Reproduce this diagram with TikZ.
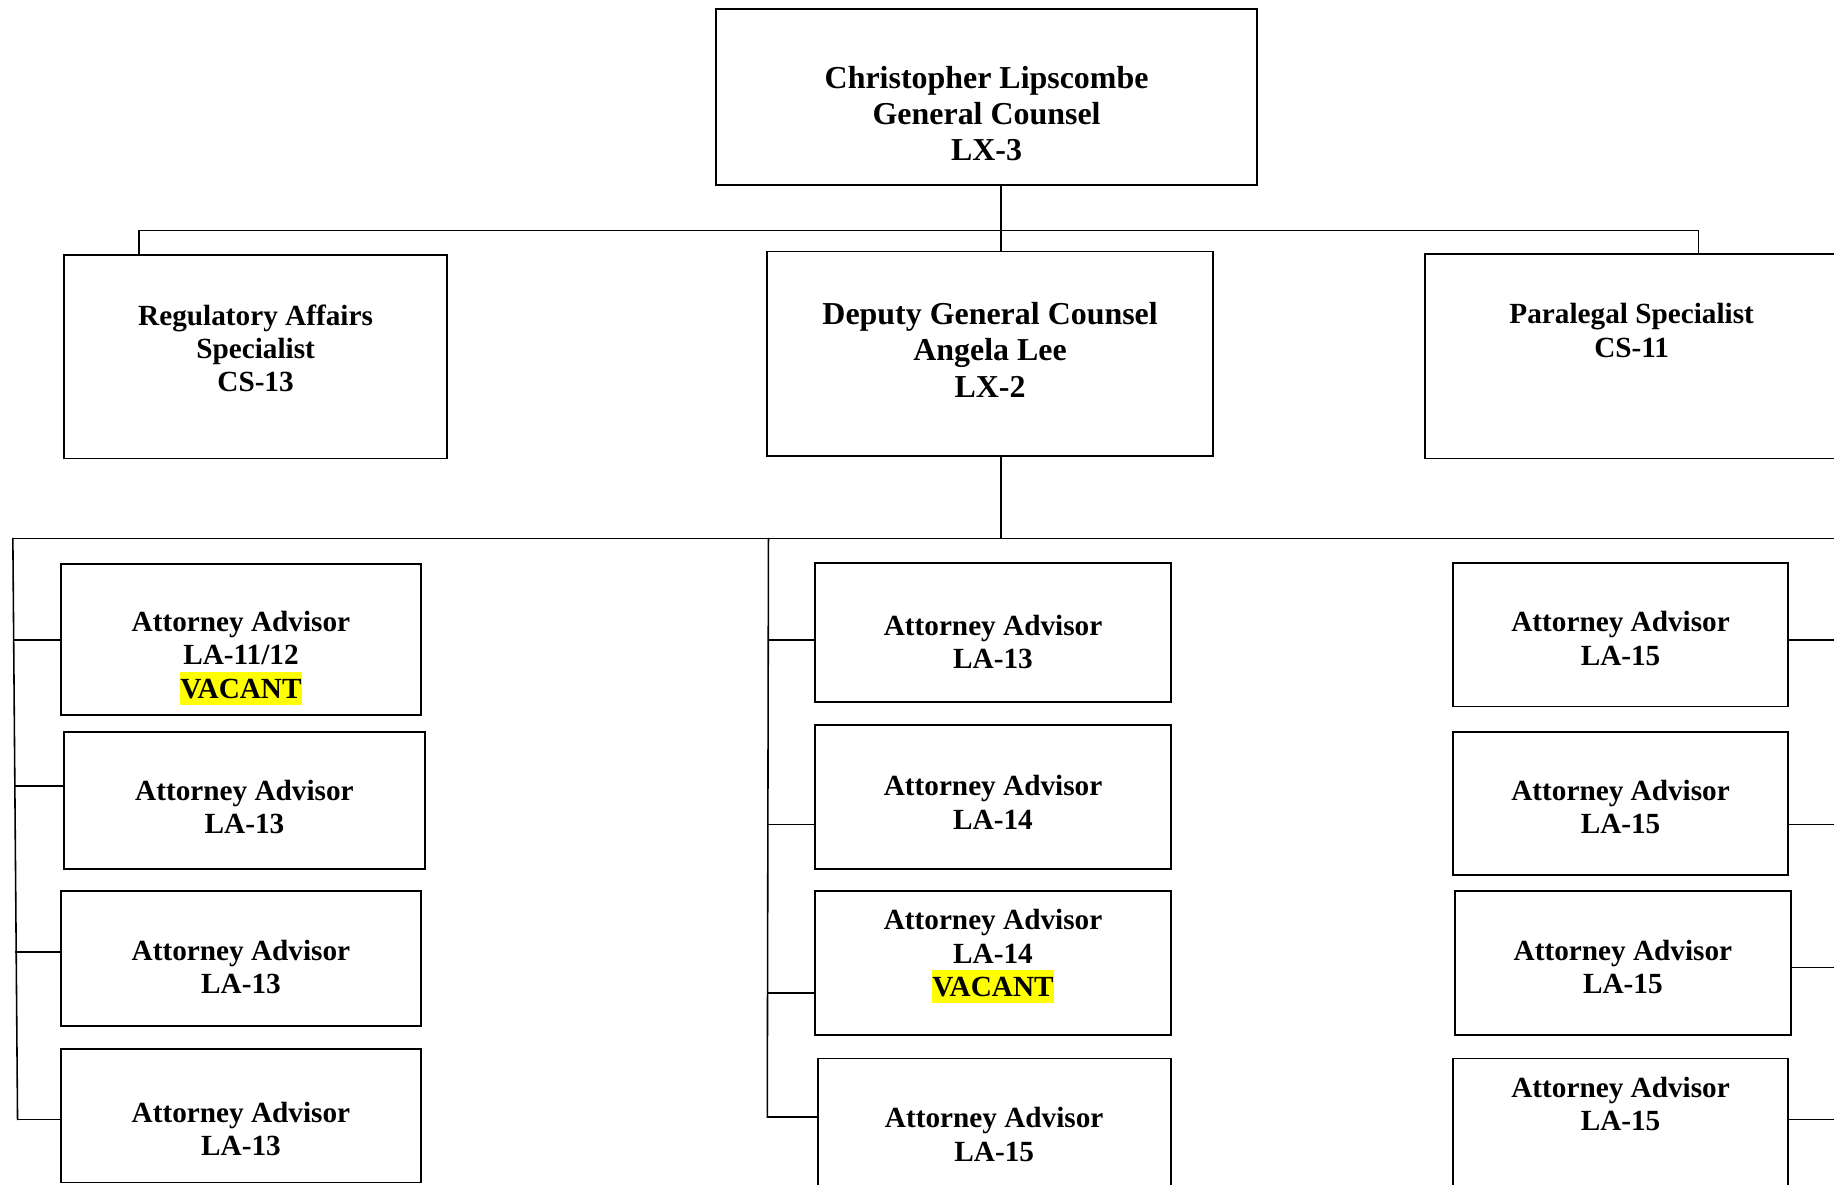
\documentclass[tikz,border=0pt]{standalone}
\usepackage{fontspec}
\setmainfont{Liberation Serif}
\usepackage{xcolor}
\definecolor{hiyellow}{RGB}{255,255,0}
% yellow highlight spanning the full ascent and descent of the line
\newcommand{\hlvacant}{{\setlength{\fboxsep}{0.5pt}\colorbox{hiyellow}{\rule[-0.216em]{0pt}{1.107em}VACANT}}}

\begin{document}
\begin{tikzpicture}[x=1pt,y=-1pt,
  box/.style={draw, line width=1.6pt, inner sep=0pt, rectangle},
  big/.style={align=center, inner sep=0pt, font=\fontsize{27.3}{31}\selectfont\bfseries},
  small/.style={align=center, inner sep=0pt, font=\fontsize{25}{28.5}\selectfont\bfseries},
  link/.style={line width=1.35pt, line cap=rect}]

\clip (0,0) rectangle (1568,1013);
\fill[white] (0,0) rectangle (1568,1013);

% ---- top level
\node[box, minimum width=463pt, minimum height=150pt] (gc) at (843.5,83) {};
\node[big] (gc-t) at (843.5,97) {Christopher Lipscombe\\General Counsel\\LX-3};

% ---- second level
\node[box, minimum width=327pt, minimum height=174pt] (ras) at (218.5,305) {};
\node[small] (ras-t) at (218.5,297.7) {Regulatory Affairs\\Specialist\\CS-13};

\node[box, minimum width=381pt, minimum height=175pt] (dgc) at (846.5,302.5) {};
\node[big] (dgc-t) at (846.5,299) {Deputy General Counsel\\Angela Lee\\LX-2};

\node[box, minimum width=354pt, minimum height=175pt] (ps) at (1395,304.5) {};
\node[small] (ps-t) at (1395,282.5) {Paralegal Specialist\\CS-11};

% ---- attorney advisors, left column
\node[box, minimum width=308pt, minimum height=129pt] (l1) at (206,546.5) {};
\node[small] (l1-t) at (206,562.7) {Attorney Advisor\\LA-11/12\\\hlvacant};
\node[box, minimum width=308pt, minimum height=117pt] (l2) at (209,684.5) {};
\node[small] (l2-t) at (209,690) {Attorney Advisor\\LA-13};
\node[box, minimum width=308pt, minimum height=115pt] (l3) at (206,819.5) {};
\node[small] (l3-t) at (206,827) {Attorney Advisor\\LA-13};
\node[box, minimum width=308pt, minimum height=114pt] (l4) at (206,954) {};
\node[small] (l4-t) at (206,965) {Attorney Advisor\\LA-13};

% ---- attorney advisors, middle column
\node[box, minimum width=304pt, minimum height=119pt] (m1) at (849,540.5) {};
\node[small] (m1-t) at (849,549) {Attorney Advisor\\LA-13};
\node[box, minimum width=304pt, minimum height=123pt] (m2) at (849,681.5) {};
\node[small] (m2-t) at (849,686) {Attorney Advisor\\LA-14};
\node[box, minimum width=304pt, minimum height=123pt] (m3) at (849,823.5) {};
\node[small] (m3-t) at (849,817.7) {Attorney Advisor\\LA-14\\\hlvacant};
\node[box, minimum width=302pt, minimum height=135pt] (m4) at (850,972.5) {};
\node[small] (m4-t) at (850,970) {Attorney Advisor\\LA-15};

% ---- attorney advisors, right column
\node[box, minimum width=287pt, minimum height=123pt] (r1) at (1385.5,542.5) {};
\node[small] (r1-t) at (1385.5,546) {Attorney Advisor\\LA-15};
\node[box, minimum width=287pt, minimum height=122pt] (r2) at (1385.5,687) {};
\node[small] (r2-t) at (1385.5,690) {Attorney Advisor\\LA-15};
\node[box, minimum width=287pt, minimum height=123pt] (r3) at (1387.5,823.5) {};
\node[small] (r3-t) at (1387.5,827) {Attorney Advisor\\LA-15};
\node[box, minimum width=287pt, minimum height=135pt] (r4) at (1385.5,972.5) {};
\node[small] (r4-t) at (1385.5,944) {Attorney Advisor\\LA-15};

% ---- upper connectors
\coordinate (j0) at (856,197);
\coordinate (j0l) at (119,197);
\coordinate (j0r) at (1452,197);
\draw[link] (gc.south -| j0) -- (dgc.north -| j0);
\draw[link] (ras.north -| j0l) -- (j0l) -- (j0r) -- (ps.north -| j0r);

% ---- lower bus and spines
\coordinate (j1) at (856,460.5);
\coordinate (sl) at (11,460.5);
\coordinate (sm) at (657,460.5);
\coordinate (se) at (1568,460.5);
\coordinate (slb) at (15,957);
\coordinate (smb) at (656,955);
\draw[link] (dgc.south -| j1) -- (j1);
\draw[link] (sl) -- (se);
\draw[link] (sl) -- (slb);
\draw[link] (sm) -- (smb);

% ---- left branches
\coordinate (la) at (11.7,547);
\coordinate (lb) at (12.7,672);
\coordinate (lc) at (13.8,814);
\draw[link] (la) -- (l1.west |- la);
\draw[link] (lb) -- (l2.west |- lb);
\draw[link] (lc) -- (l3.west |- lc);
\draw[link] (slb) -- (l4.west |- slb);

% ---- middle branches
\coordinate (ma) at (657,547);
\coordinate (mb) at (657,705);
\coordinate (mc) at (656.5,849);
\draw[link] (ma) -- (m1.west |- ma);
\draw[link] (mb) -- (m2.west |- mb);
\draw[link] (mc) -- (m3.west |- mc);
\draw[link] (smb) -- (m4.west |- smb);

% ---- right branches
\coordinate (ra) at (1568,547);
\coordinate (rb) at (1568,705);
\coordinate (rc) at (1568,827);
\coordinate (rd) at (1568,957);
\draw[link] (r1.east |- ra) -- (ra);
\draw[link] (r2.east |- rb) -- (rb);
\draw[link] (r3.east |- rc) -- (rc);
\draw[link] (r4.east |- rd) -- (rd);
\end{tikzpicture}
\end{document}
